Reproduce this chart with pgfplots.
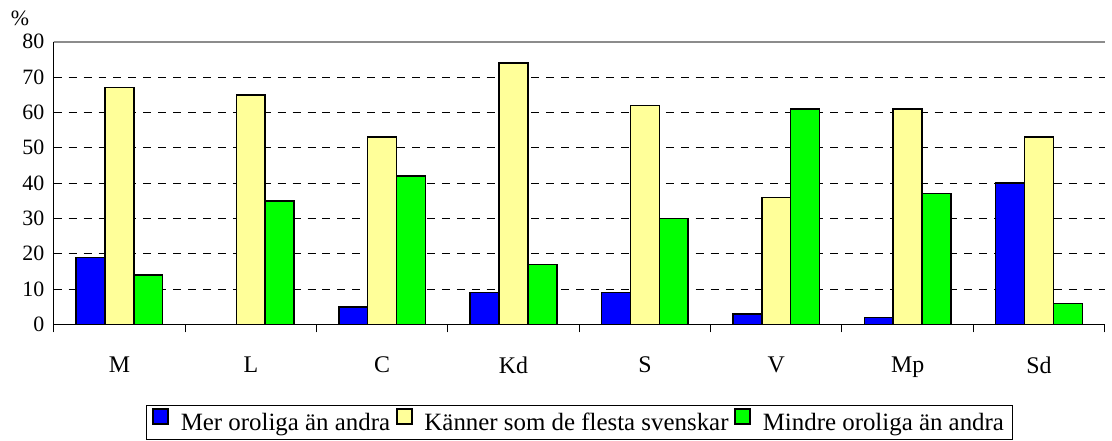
\documentclass[border=0pt]{standalone}
\usepackage{fontspec}
\setmainfont{Liberation Serif}
\newfontfamily\tnr{Liberation Serif}
\usepackage{pgfplots}
\pgfplotsset{compat=1.18}
\begin{document}
\tnr\fontsize{22}{26}\selectfont
\begin{tikzpicture}[font=\tnr\fontsize{22}{26}\selectfont]
\begin{axis}[
  scale only axis,
  width=1056pt, height=284pt,
  ybar=0pt, bar width=29pt,
  xmin=-0.5, xmax=7.5,
  ymin=0, ymax=80,
  ytick={0,10,...,80},
  axis x line*=bottom, axis y line*=left,
  axis line style={black, line width=1pt},
  x axis line style={-}, y axis line style={-},
  ymajorgrids,
  major grid style={black, line width=0.8pt, dash pattern=on 8pt off 7pt},
  major tick length=8pt,
  tick style={black, line width=1pt},
  xtick={-0.5,0.5,...,7.5},
  xticklabels={},
  extra x ticks={0,1,2,3,4,5,6,7},
  extra x tick labels={M,L,C,Kd,S,V,Mp,Sd},
  extra x tick style={major tick length=0pt, xticklabel style={yshift=-25pt, font=\tnr\fontsize{24}{28}\selectfont}, grid=none},
  /pgf/number format/assume math mode=true,
  tick label style={font=\tnr\fontsize{22}{26}\selectfont},
  yticklabel style={xshift=-2pt},
  legend style={at={(0.5,-0.284)}, anchor=north, legend columns=-1, draw=black, line width=0.8pt,
    font=\tnr\fontsize{25}{30}\selectfont, inner xsep=6pt, inner ysep=3pt,
    nodes={inner sep=2pt},
    /tikz/every even column/.append style={column sep=4pt},
    /tikz/every odd column/.append style={column sep=10pt}},
  legend image code/.code={\draw[#1, line width=1.5pt] (0pt,0pt) rectangle (15pt,15pt);},
  every axis plot/.append style={draw=black, line width=1.5pt},
  clip=false,
]
\addplot[fill={rgb,255:red,0;green,0;blue,255}] coordinates {(0,19) (1,0) (2,5) (3,9) (4,9) (5,3) (6,2) (7,40)};
\addplot[fill={rgb,255:red,255;green,255;blue,153}] coordinates {(0,67) (1,65) (2,53) (3,74) (4,62) (5,36) (6,61) (7,53)};
\addplot[fill={rgb,255:red,0;green,255;blue,0}] coordinates {(0,14) (1,35) (2,42) (3,17) (4,30) (5,61) (6,37) (7,6)};
\legend{Mer oroliga än andra,Känner som de flesta svenskar,Mindre oroliga än andra}
\draw[gray!90, line width=1.5pt] (rel axis cs:0,1) -- (rel axis cs:1,1);
\node[anchor=north, inner sep=1pt] at (rel axis cs:0,1) [xshift=-34pt, yshift=32pt] {\%};
\coordinate (tl) at (rel axis cs:0,1);
\coordinate (br) at (rel axis cs:1,0);
\end{axis}
\path ([xshift=-54pt,yshift=42pt]tl) rectangle ([xshift=2pt,yshift=-117pt]br);
\end{tikzpicture}
\end{document}
